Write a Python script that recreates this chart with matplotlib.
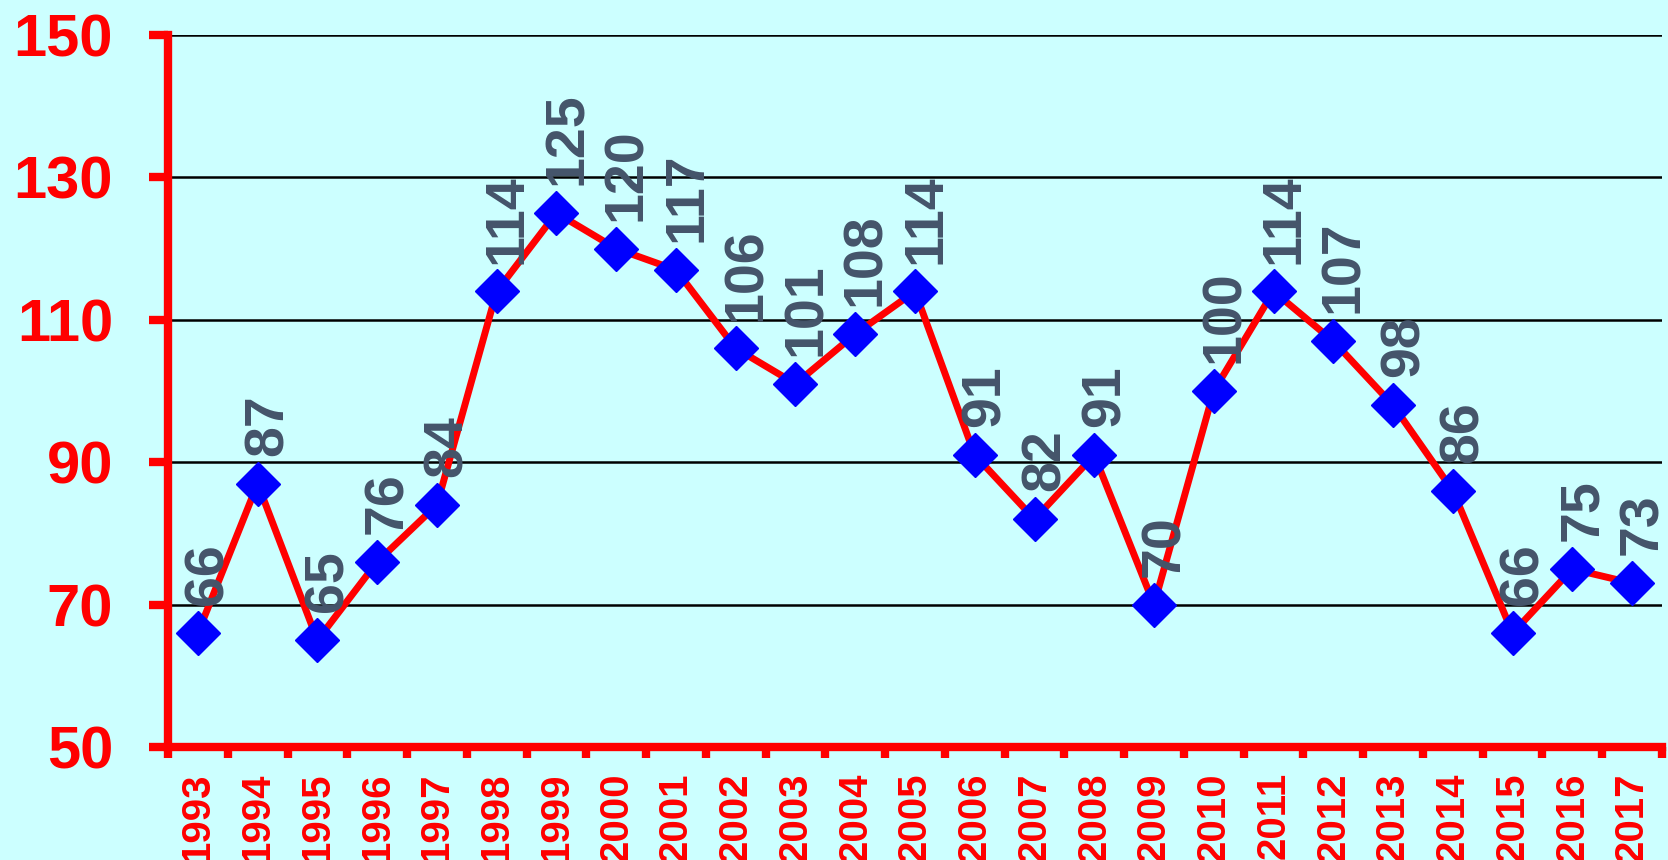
import matplotlib
matplotlib.use("Agg")
import matplotlib.pyplot as plt
import numpy as np

# data
years = [str(y) for y in range(1993, 2018)]
values = [66, 87, 65, 76, 84, 114, 125, 120, 117, 106, 101, 108, 114,
          91, 82, 91, 70, 100, 114, 107, 98, 86, 66, 75, 73]
yticks = [50, 70, 90, 110, 130, 150]

plt.rcParams['font.family'] = ['Liberation Sans', 'DejaVu Sans']

bg = '#CCFFFF'
red = '#FF0000'

fig = plt.figure(figsize=(16.68, 8.6), dpi=100, facecolor=bg)
ax = fig.add_axes([168 / 1668, 1 - 747 / 860, (1662 - 168) / 1668, (747 - 35) / 860])
ax.set_facecolor(bg)

x = np.arange(len(years))
ax.plot(x, values, color=red, lw=5, marker='D', ms=22,
        markerfacecolor='#0000FF', markeredgecolor='#0000FF', zorder=3)

for i, v in enumerate(values):
    ax.annotate(str(v), (x[i], v), xytext=(8, 20), textcoords='offset points',
                rotation=90, rotation_mode='anchor', ha='left', va='center',
                fontsize=40, fontweight='bold', color='#44546A', zorder=4)

ax.set_xlim(-0.5, len(years) - 0.5)
ax.set_ylim(50, 150)
ax.set_yticks(yticks)
ax.set_xticks(x)
ax.set_xticklabels(years)
ax.set_xticks(np.arange(-0.5, len(years)), minor=True)

ax.yaxis.grid(True, color='black', lw=1.8)
ax.set_axisbelow(True)

for s in ['top', 'right']:
    ax.spines[s].set_visible(False)
for s in ['left', 'bottom']:
    ax.spines[s].set_color(red)
    ax.spines[s].set_linewidth(6)

ax.tick_params(axis='y', direction='out', length=13.5, width=6, color=red,
               labelsize=43, labelcolor=red, pad=26)
for lab in ax.get_yticklabels():
    lab.set_fontweight('bold')

ax.tick_params(axis='x', which='major', length=0, labelsize=29,
               labelcolor=red, pad=18, labelrotation=90)
ax.tick_params(axis='x', which='minor', direction='out', length=8, width=6,
               color=red)
for lab in ax.get_xticklabels():
    lab.set_fontweight('bold')

fig.savefig('out.png', dpi=100, facecolor=bg)
